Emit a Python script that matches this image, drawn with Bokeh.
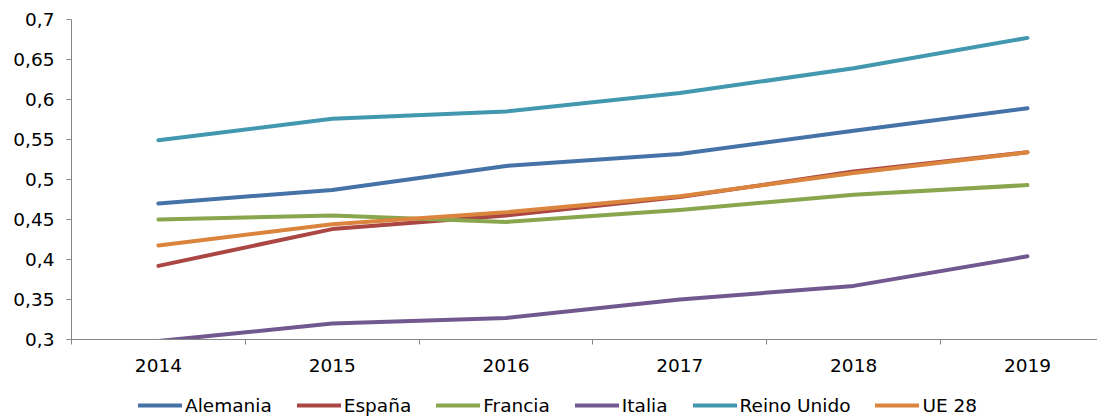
from bokeh.plotting import figure
from bokeh.layouts import column
from bokeh.models import Range1d, FixedTicker, Legend, LegendItem
from bokeh.embed import file_html
from bokeh.resources import INLINE

years = [2014, 2015, 2016, 2017, 2018, 2019]
alemania = [0.470, 0.487, 0.517, 0.532, 0.561, 0.589]
espana = [0.392, 0.438, 0.455, 0.478, 0.510, 0.534]
francia = [0.450, 0.455, 0.447, 0.462, 0.481, 0.493]
italia = [0.298, 0.320, 0.327, 0.350, 0.367, 0.404]
reino_unido = [0.549, 0.576, 0.585, 0.608, 0.639, 0.677]
ue28 = [0.4175, 0.444, 0.459, 0.479, 0.508, 0.534]

series_names = ["Alemania", "España", "Francia", "Italia", "Reino Unido", "UE 28"]
series_values = [alemania, espana, francia, italia, reino_unido, ue28]
colors = ["#4572A7", "#AA4643", "#89A54E", "#71588F", "#4198AF", "#DB843D"]

yticks = [0.3, 0.35, 0.4, 0.45, 0.5, 0.55, 0.6, 0.65, 0.7]
ytick_labels = ["0,3", "0,35", "0,4", "0,45", "0,5", "0,55", "0,6", "0,65", "0,7"]
xtick_labels = ["2014", "2015", "2016", "2017", "2018", "2019"]

FONT = "DejaVu Sans"
FS = "18.5px"
AXIS_COLOR = "#868686"

p = figure(frame_width=1026, frame_height=320, output_backend="svg", toolbar_location=None,
           x_range=Range1d(2013.5, 2019.403), y_range=Range1d(0.3, 0.7),
           min_border_left=71, min_border_right=0, min_border_top=19, min_border_bottom=41)
p.outline_line_color = None
p.grid.visible = False

for name, vals, c in zip(series_names, series_values, colors):
    p.line(years, vals, line_color=c, line_width=4, line_cap="round", line_join="round")

# y axis
ya = p.yaxis[0]
ya.ticker = FixedTicker(ticks=yticks, minor_ticks=[])
ya.major_label_overrides = {t: l for t, l in zip(yticks, ytick_labels)}
ya.axis_line_color = AXIS_COLOR
ya.major_tick_line_color = AXIS_COLOR
ya.major_tick_out = 5
ya.major_tick_in = 0
ya.minor_tick_line_color = None
ya.major_label_text_font = FONT
ya.major_label_text_font_size = FS
ya.major_label_text_color = "#000000"
ya.major_label_standoff = 12

# x axis
xa = p.xaxis[0]
xa.ticker = FixedTicker(ticks=years, minor_ticks=[y - 0.5 for y in years] + [2019.5])
xa.major_label_overrides = {y: l for y, l in zip(years, xtick_labels)}
xa.axis_line_color = AXIS_COLOR
xa.major_tick_line_color = None
xa.major_tick_out = 5
xa.major_tick_in = 0
xa.minor_tick_line_color = AXIS_COLOR
xa.minor_tick_out = 5
xa.minor_tick_in = 0
xa.major_label_text_font = FONT
xa.major_label_text_font_size = FS
xa.major_label_text_color = "#000000"
xa.major_label_standoff = 14

# legend strip (separate figure so the legend sits below the axis labels)
pl = figure(frame_width=1026, frame_height=39, output_backend="svg", toolbar_location=None,
            x_range=Range1d(2013.5, 2019.403), y_range=Range1d(10, 11),
            x_axis_location=None, y_axis_location=None,
            min_border_left=71, min_border_right=0, min_border_top=0, min_border_bottom=0)
pl.outline_line_color = None
pl.grid.visible = False
items = []
for name, vals, c in zip(series_names, series_values, colors):
    r = pl.line(years, vals, line_color=c, line_width=4, line_cap="round", line_join="round")
    items.append(LegendItem(label=name, renderers=[r]))

legend = Legend(items=items, orientation="horizontal", location=(67, 3),
                label_text_font=FONT, label_text_font_size=FS, label_text_color="#000000",
                glyph_width=44, glyph_height=22, label_standoff=3, spacing=25,
                padding=0, margin=0, border_line_color=None, background_fill_alpha=0)
pl.add_layout(legend, "center")

layout = column(p, pl, spacing=0)
open("out.html", "w").write(file_html(layout, INLINE))
